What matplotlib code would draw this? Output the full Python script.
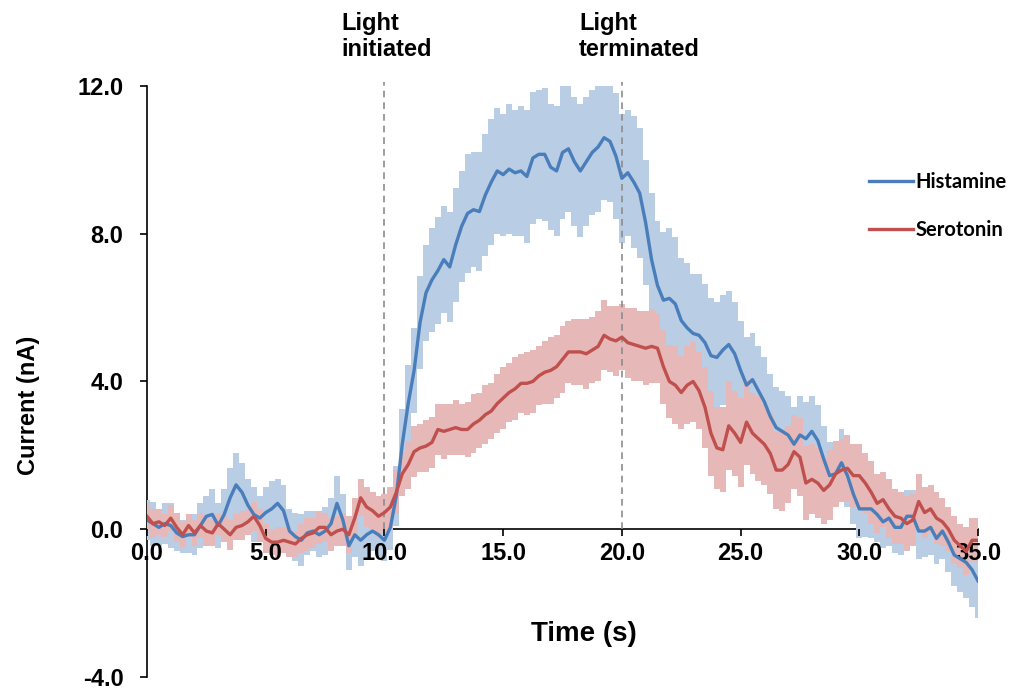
import numpy as np
from matplotlib import pyplot as plt

# sample times (s), 0.25 s apart
time_s = np.arange(141) * 0.25

histamine = [
    0.25, 0.15, 0.05, 0.15, 0.10, -0.10, -0.20, -0.15, -0.15,
    0.10, 0.35, 0.40, 0.10, 0.40, 0.85, 1.20, 1.00,
    0.65, 0.40, 0.30, 0.45, 0.55, 0.70, 0.50, -0.05,
    -0.20, -0.30, -0.10, -0.05, -0.15, -0.05, 0.15, 0.70,
    0.25, -0.45, -0.15, -0.30, -0.15, -0.05, -0.15, -0.30,
    0.05, 0.90, 2.30, 3.40, 4.30, 5.60, 6.40, 6.75,
    7.00, 7.30, 7.10, 7.70, 8.20, 8.55, 8.65, 8.60,
    9.05, 9.40, 9.70, 9.60, 9.75, 9.65, 9.70, 9.55,
    10.05, 10.15, 10.15, 9.80, 9.70, 10.20, 10.30, 9.95,
    9.70, 9.95, 10.20, 10.35, 10.60, 10.50, 10.10, 9.50,
    9.65, 9.40, 9.10, 8.30, 7.30, 6.60, 6.20, 6.25,
    6.10, 5.65, 5.45, 5.30, 5.25, 5.05, 4.70, 4.65,
    4.85, 5.00, 4.75, 4.30, 3.90, 4.05, 3.75, 3.45,
    3.05, 2.75, 2.65, 2.55, 2.30, 2.55, 2.45, 2.65,
    2.40, 1.90, 1.45, 1.50, 1.80, 1.45, 0.95, 0.55,
    0.55, 0.55, 0.40, 0.20, 0.30, 0.05, 0.05, 0.35,
    0.35, -0.05, -0.05, 0.05, -0.25, -0.05, -0.35, -0.70,
    -0.80, -0.90, -1.10, -1.40,
]
histamine_err = [
    0.55, 0.6, 0.5, 0.55, 0.6, 0.5, 0.45, 0.5, 0.55,
    0.6, 0.55, 0.7, 0.6, 0.7, 0.8, 0.85, 0.8,
    0.7, 0.75, 0.6, 0.7, 0.75, 0.65, 0.7, 0.6,
    0.65, 0.7, 0.6, 0.55, 0.6, 0.65, 0.7, 0.75,
    0.7, 0.65, 0.6, 0.7, 0.65, 0.55, 0.6, 0.55,
    0.6, 0.8, 0.95, 1.05, 1.15, 1.25, 1.3, 1.4,
    1.45, 1.45, 1.5, 1.55, 1.5, 1.6, 1.55, 1.6,
    1.65, 1.7, 1.7, 1.65, 1.75, 1.7, 1.75, 1.8,
    1.8, 1.75, 1.8, 1.7, 1.75, 1.8, 1.7, 1.75,
    1.8, 1.75, 1.7, 1.75, 1.7, 1.65, 1.7, 1.75,
    1.7, 1.8, 1.75, 1.7, 1.8, 1.75, 1.85, 1.9,
    1.8, 1.7, 1.75, 1.6, 1.65, 1.6, 1.55, 1.5,
    1.5, 1.45, 1.4, 1.35, 1.3, 1.25, 1.2, 1.2,
    1.15, 1.1, 1.1, 1.05, 1.0, 1.05, 1.0, 0.95,
    0.95, 0.9, 0.9, 0.85, 0.9, 0.85, 0.8, 0.8,
    0.75, 0.8, 0.75, 0.7, 0.75, 0.7, 0.75, 0.7,
    0.7, 0.75, 0.7, 0.75, 0.7, 0.75, 0.8, 0.85,
    0.9, 0.95, 1.0, 1.0,
]

serotonin = [
    0.35, 0.15, 0.20, 0.10, 0.30, 0.05, -0.15, 0.10, -0.10,
    0.10, -0.05, -0.10, 0.15, 0.00, -0.15, 0.05, 0.10,
    0.20, 0.35, 0.10, -0.25, -0.35, -0.35, -0.30, -0.35,
    -0.40, -0.25, -0.15, -0.10, 0.05, 0.05, -0.15, -0.05,
    0.00, -0.15, 0.30, 0.85, 0.60, 0.50, 0.35, 0.45,
    0.60, 1.00, 1.50, 1.75, 2.10, 2.20, 2.25, 2.35,
    2.70, 2.65, 2.70, 2.75, 2.70, 2.70, 2.85, 2.95,
    3.10, 3.20, 3.40, 3.55, 3.70, 3.80, 3.95, 3.95,
    4.00, 4.15, 4.25, 4.30, 4.40, 4.60, 4.80, 4.80,
    4.80, 4.75, 4.85, 4.95, 5.25, 5.15, 5.10, 5.20,
    5.05, 5.00, 4.95, 4.90, 4.95, 4.90, 4.40, 4.00,
    3.90, 3.70, 3.90, 4.00, 3.75, 3.30, 2.60, 2.20,
    2.15, 2.80, 2.60, 2.35, 2.90, 2.60, 2.45, 2.30,
    2.05, 1.60, 1.60, 1.75, 2.10, 1.95, 1.25, 1.35,
    1.25, 1.05, 1.20, 1.50, 1.60, 1.65, 1.45, 1.45,
    1.25, 1.00, 0.70, 0.80, 0.55, 0.35, 0.30, 0.15,
    0.25, 0.75, 0.45, 0.55, 0.30, 0.20, 0.00, -0.30,
    -0.45, -0.60, -0.30, -0.30,
]
serotonin_err = [
    0.35, 0.4, 0.35, 0.3, 0.35, 0.4, 0.35, 0.3, 0.35,
    0.35, 0.4, 0.35, 0.3, 0.35, 0.4, 0.35, 0.4,
    0.35, 0.4, 0.45, 0.4, 0.35, 0.4, 0.35, 0.4,
    0.35, 0.4, 0.45, 0.4, 0.45, 0.4, 0.45, 0.4,
    0.45, 0.5, 0.55, 0.5, 0.55, 0.5, 0.55, 0.5,
    0.55, 0.6, 0.6, 0.65, 0.7, 0.65, 0.7, 0.7,
    0.7, 0.75, 0.7, 0.75, 0.7, 0.75, 0.8, 0.75,
    0.8, 0.75, 0.8, 0.85, 0.8, 0.85, 0.8, 0.85,
    0.85, 0.8, 0.85, 0.9, 0.85, 0.9, 0.85, 0.9,
    0.9, 0.95, 0.9, 0.95, 0.95, 0.9, 0.95, 0.9,
    0.95, 1.0, 0.95, 1.0, 1.0, 0.95, 1.0, 1.0,
    1.05, 1.0, 1.05, 1.1, 1.05, 1.1, 1.15, 1.1,
    1.15, 1.2, 1.15, 1.2, 1.15, 1.1, 1.15, 1.1,
    1.1, 1.05, 1.1, 1.05, 1.0, 1.05, 1.0, 0.95,
    0.95, 0.9, 0.95, 0.9, 0.85, 0.9, 0.85, 0.85,
    0.8, 0.85, 0.8, 0.75, 0.8, 0.75, 0.7, 0.75,
    0.7, 0.75, 0.7, 0.65, 0.7, 0.65, 0.6, 0.65,
    0.6, 0.65, 0.6, 0.6,
]

light_times = [10, 20]
light_labels = ['Light\ninitiated', 'Light\nterminated']
yticks = [-4, 0, 4, 8, 12]
xticks = [0, 5, 10, 15, 20, 25, 30, 35]

narrow = ['Liberation Sans Narrow', 'Liberation Sans', 'DejaVu Sans']
regular = ['Liberation Sans', 'DejaVu Sans']

fig = plt.figure(figsize=(10.28, 6.89), dpi=100)
ax = fig.add_axes([0.143, 0.0175, 0.8084, 0.8577])

h = np.array(histamine)
he = np.array(histamine_err)
s = np.array(serotonin)
se = np.array(serotonin_err)

ax.fill_between(time_s, h - he, h + he, step='mid', color='#b9cde5', lw=0, zorder=1)
ax.fill_between(time_s, s - se, s + se, step='mid', color='#e6b9b8', lw=0, zorder=1.1)
ax.vlines(light_times, 0, 12.1, colors='#8c8c8c', linestyles=(0, (4, 3)), lw=1.2,
          zorder=1.5, clip_on=False)
ax.plot(time_s, h, color='#4a7ebb', lw=2.4, label='Histamine', zorder=3)
ax.plot(time_s, s, color='#c0504d', lw=2.4, label='Serotonin', zorder=3.1)

for x, txt in zip([8.2, 18.2], light_labels):
    ax.text(x, 14.0, txt, ha='left', va='top', fontsize=17, fontweight='bold',
            family=narrow, linespacing=1.15, clip_on=False)

ax.set_xlim(0, 35)
ax.set_ylim(-4, 12)
ax.spines['top'].set_visible(False)
ax.spines['right'].set_visible(False)
ax.spines['bottom'].set_position(('data', 0))
for sp in ['left', 'bottom']:
    ax.spines[sp].set_linewidth(1.2)
    ax.spines[sp].set_zorder(0.5)

ax.set_xticks(xticks)
ax.set_xticklabels(['%.1f' % v for v in xticks])
ax.set_yticks(yticks)
ax.set_yticklabels(['%.1f' % v for v in yticks])
ax.tick_params(axis='both', direction='out', length=5, width=1.2)
ax.tick_params(axis='y', pad=12)
ax.tick_params(axis='x', pad=4)
for lab in ax.get_xticklabels() + ax.get_yticklabels():
    lab.set_fontsize(17)
    lab.set_fontweight('bold')
    lab.set_family(narrow)

ax.set_xlabel('Time (s)', fontsize=20, fontweight='bold', family=regular)
ax.xaxis.set_label_coords(0.526, 0.095)
ax.set_ylabel('Current (nA)', fontsize=17, fontweight='bold', family=regular)
ax.yaxis.set_label_coords(-0.129, 0.46)

leg = ax.legend(loc='upper left', bbox_to_anchor=(0.847, 0.885), frameon=False,
                handlelength=2.2, handletextpad=0.1, labelspacing=1.4,
                prop={'family': ['Lato', 'DejaVu Sans'], 'weight': 'bold', 'size': 14.5})

plt.savefig('out.png', dpi=100)
